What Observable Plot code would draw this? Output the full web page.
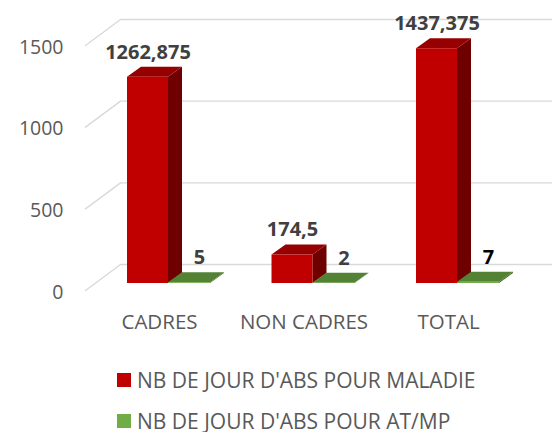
<!DOCTYPE html>
<html>
<head>
<meta charset="utf-8">
<script src="https://cdn.jsdelivr.net/npm/d3@7"></script>
<script src="https://cdn.jsdelivr.net/npm/@observablehq/plot@0.6"></script>
<style>
  html, body { margin: 0; padding: 0; background: #fff; overflow: hidden; }
  #chart svg { display: block; }
  .legend { font-family: "Open Sans", sans-serif; font-size: 21px; color: #595959; line-height: 1; }
  .legend .row { display: flex; align-items: center; height: 22px; padding-left: 117px; }
  .legend .sw { width: 14px; height: 14px; margin-right: 6px; flex: none; }
</style>
</head>
<body>
<div id="chart"></div>
<div class="legend" id="legend"></div>
<script>
// ---- data ----
const categories = ["CADRES", "NON CADRES", "TOTAL"];
const maladie = [1262.875, 174.5, 1437.375];
const atmp = [5, 2, 7];
const yTicks = [0, 500, 1000, 1500];
const seriesNames = ["NB DE JOUR D'ABS POUR MALADIE", "NB DE JOUR D'ABS POUR AT/MP"];

// ---- layout helpers (pixel -> data units) ----
const PX_PER_CAT = 144.5;
const PX_PER_VAL = 245 / 1500;
const ux = p => p / PX_PER_CAT;
const uv = p => p / PX_PER_VAL;
const DX = ux(14), DV = uv(10);          // bar depth
const RED_W = ux(41), GREEN_W = ux(42);

const colors = {
  red: {front: "#c00000", top: "#960000", side: "#6f0000"},
  green: {front: "#70ad47", top: "#548235", side: "#3e6328"}
};
const fmt = v => String(v).replace(".", ",");

const bars = [];
categories.forEach((c, i) => {
  bars.push({id: "m" + i, cat: c, i, s: "red", v: maladie[i], x1: i - RED_W, x2: i});
  bars.push({id: "a" + i, cat: c, i, s: "green", v: atmp[i], x1: i, x2: i + GREEN_W});
});
const tops = bars.flatMap(b => [
  {id: b.id, s: b.s, y: b.v, x1: b.x1, x2: b.x2},
  {id: b.id, s: b.s, y: b.v + DV, x1: b.x1 + DX, x2: b.x2 + DX}
]);
const sides = bars.flatMap(b => [
  {id: b.id, s: b.s, x: b.x2, y1: 0, y2: b.v},
  {id: b.id, s: b.s, x: b.x2 + DX, y1: DV, y2: b.v + DV}
]);

const xFront = ux(85 - 168), xBack = ux(120 - 168), xEnd = ux(560 - 168);
const grid = yTicks.flatMap(t => [
  {t, x: xFront, y: t - uv(7)},
  {t, x: xBack, y: t + uv(19)},
  {t, x: xEnd, y: t + uv(19)}
]);

const faceMarks = s => [
  Plot.areaY(sides.filter(d => d.s === s), {x: "x", y1: "y1", y2: "y2", z: "id", fill: colors[s].side}),
  Plot.areaX(tops.filter(d => d.s === s), {y: "y", x1: "x1", x2: "x2", z: "id", fill: colors[s].top}),
  Plot.rect(bars.filter(d => d.s === s), {x1: "x1", x2: "x2", y1: 0, y2: "v", fill: colors[s].front})
];

const chart = Plot.plot({
  width: 552,
  height: 345,
  margin: 0,
  x: {domain: [0, 2], range: [168, 168 + 2 * PX_PER_CAT], axis: null},
  y: {domain: [0, 1500], range: [283, 283 - 245], axis: null},
  style: {fontFamily: "'Open Sans', sans-serif", background: "#fff", overflow: "visible"},
  marks: [
    Plot.line(grid, {x: "x", y: "y", z: "t", stroke: "#d9d9d9", strokeWidth: 1.4}),
    Plot.text(yTicks, {x: xFront, y: d => d, text: d => String(d), textAnchor: "end", dx: -22, dy: 9,
      fontSize: 19.5, fill: "#595959", lineAnchor: "middle"}),
    ...faceMarks("red"),
    ...faceMarks("green"),
    Plot.text(bars.filter(d => d.s === "red"), {x: d => (d.x1 + d.x2) / 2, y: "v", text: d => fmt(d.v),
      dy: -25, fontSize: 20, fontWeight: "bold", fill: "#404040", lineAnchor: "middle"}),
    Plot.text(bars.filter(d => d.s === "green"), {x: "x1", y: "v", text: d => fmt(d.v),
      dx: 31, dy: -25, fontSize: 20, fontWeight: "bold", lineAnchor: "middle",
      fill: d => d.cat === "TOTAL" ? "#000000" : "#404040"}),
    Plot.text(categories, {x: (d, i) => i, y: 0, text: d => d, dx: -9, dy: 39,
      fontSize: 20.5, fill: "#595959", lineAnchor: "middle"})
  ]
});
document.getElementById("chart").appendChild(chart);

// ---- legend ----
const legend = document.getElementById("legend");
const legColors = [colors.red.front, colors.green.front];
seriesNames.forEach((name, k) => {
  const row = document.createElement("div");
  row.className = "row";
  row.style.marginTop = k === 0 ? "24px" : "19px";
  const sw = document.createElement("span");
  sw.className = "sw";
  sw.style.background = legColors[k];
  const tx = document.createElement("span");
  tx.textContent = name;
  row.appendChild(sw);
  row.appendChild(tx);
  legend.appendChild(row);
});
</script>
</body>
</html>
